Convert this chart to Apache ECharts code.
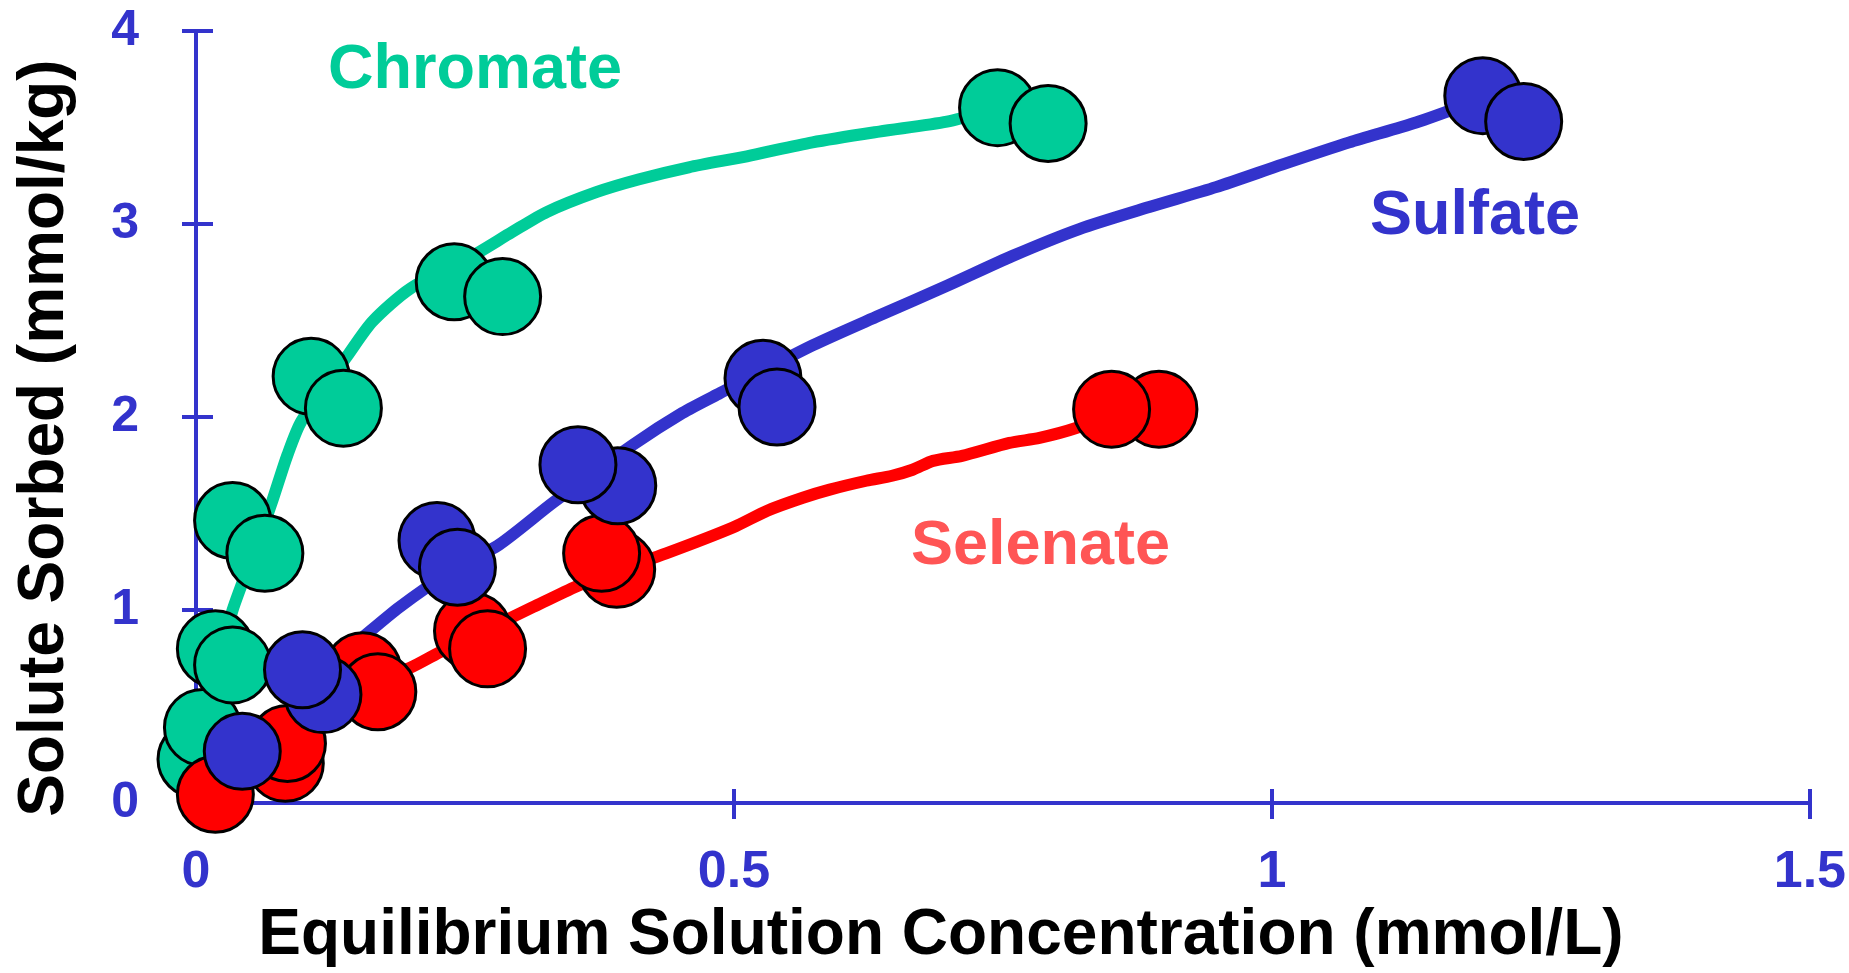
<!DOCTYPE html>
<html>
<head>
<meta charset="utf-8">
<script src="https://cdn.jsdelivr.net/npm/echarts@6/dist/echarts.min.js"></script>
<style>
html,body{margin:0;padding:0;background:#ffffff;}
#chart{width:1849px;height:973px;}
</style>
</head>
<body>
<div id="chart"></div>
<script>
// ---- data ----
const xAxisMin = 0, xAxisMax = 1.5, xAxisStep = 0.5;
const yAxisMin = 0, yAxisMax = 4, yAxisStep = 1;

// measured points (draw order)
const chromateX = [0.000, 0.006, 0.018, 0.034, 0.034, 0.064, 0.107, 0.137, 0.240, 0.285, 0.745, 0.792];
const chromateY = [0.227, 0.392, 0.799, 0.716, 1.464, 1.294, 2.211, 2.046, 2.701, 2.624, 3.603, 3.521];

const selenateX = [0.018, 0.083, 0.085, 0.155, 0.169, 0.257, 0.271, 0.391, 0.377, 0.895, 0.851];
const selenateY = [0.046, 0.206, 0.309, 0.686, 0.577, 0.892, 0.799, 1.211, 1.294, 2.041, 2.041];

const sulfateX = [0.043, 0.118, 0.099, 0.224, 0.243, 0.392, 0.355, 0.527, 0.540, 1.196, 1.234];
const sulfateY = [0.268, 0.562, 0.691, 1.361, 1.222, 1.644, 1.753, 2.201, 2.052, 3.665, 3.531];

// fitted curves
const chromateCurveX = [0.001, 0.010, 0.022, 0.034, 0.059, 0.071, 0.085, 0.098, 0.141, 0.164, 0.199, 0.257, 0.294, 0.326, 0.372, 0.412, 0.458, 0.512, 0.573, 0.635, 0.698, 0.733];
const chromateCurveY = [0.036, 0.397, 0.732, 1.000, 1.376, 1.567, 1.804, 1.979, 2.320, 2.495, 2.665, 2.835, 2.959, 3.062, 3.165, 3.232, 3.294, 3.351, 3.423, 3.479, 3.531, 3.582];

const sulfateCurveX = [0.002, 0.041, 0.087, 0.124, 0.152, 0.189, 0.236, 0.282, 0.332, 0.406, 0.452, 0.487, 0.573, 0.635, 0.698, 0.759, 0.821, 0.886, 0.948, 1.010, 1.072, 1.134, 1.183];
const sulfateCurveY = [0.010, 0.216, 0.485, 0.716, 0.845, 1.015, 1.196, 1.340, 1.557, 1.856, 2.021, 2.124, 2.371, 2.526, 2.680, 2.835, 2.974, 3.088, 3.191, 3.309, 3.423, 3.526, 3.624];

const selenateCurveX = [0.001, 0.041, 0.083, 0.124, 0.162, 0.199, 0.229, 0.273, 0.313, 0.354, 0.394, 0.437, 0.499, 0.531, 0.564, 0.589, 0.623, 0.647, 0.666, 0.685, 0.712, 0.756, 0.784, 0.818, 0.844];
const selenateCurveY = [0.010, 0.165, 0.361, 0.526, 0.629, 0.701, 0.789, 0.907, 1.015, 1.124, 1.211, 1.294, 1.428, 1.515, 1.582, 1.624, 1.670, 1.696, 1.727, 1.773, 1.799, 1.866, 1.892, 1.943, 2.005];

const seriesNames = ['Chromate', 'Sulfate', 'Selenate'];
const xAxisTitle = 'Equilibrium Solution Concentration (mmol/L)';
const yAxisTitle = 'Solute Sorbed (mmol/kg)';

// ---- build chart ----
const FONT = '"Liberation Sans", Arial, Helvetica, sans-serif';
const GREEN = '#00CC99', BLUE = '#3333CC', RED = '#FF0000', RED_TEXT = '#FF5555';
const pairs = (xs, ys) => xs.map((x, i) => [x, ys[i]]);

const lineSeries = (name, xs, ys, color) => ({
  name: name + ' fit', type: 'line', data: pairs(xs, ys),
  xAxisIndex: 0, yAxisIndex: 0,
  showSymbol: false, symbol: 'none', smooth: 0.25, clip: false, silent: true,
  lineStyle: { color: color, width: 12, cap: 'round', join: 'round' },
  z: 2
});
const pointSeries = (name, xs, ys, color) => ({
  name: name, type: 'scatter', data: pairs(xs, ys),
  xAxisIndex: 0, yAxisIndex: 0,
  symbol: 'circle', symbolSize: 76, clip: false, silent: true,
  itemStyle: { color: color, borderColor: '#000000', borderWidth: 3, opacity: 1 },
  z: 3
});

const tickStyle = { color: BLUE, width: 4 };
const option = {
  animation: false,
  backgroundColor: '#ffffff',
  grid: { left: 196, right: 38, top: 31, bottom: 166, containLabel: false },
  xAxis: [{
    type: 'value', min: xAxisMin, max: xAxisMax, interval: xAxisStep, position: 'bottom',
    name: xAxisTitle, nameLocation: 'middle', nameGap: 100,
    nameTextStyle: { fontFamily: FONT, fontWeight: 'bold', fontSize: 64, color: '#000000', padding: [0, 124, 0, 0] },
    axisLine: { show: true, onZero: false, lineStyle: { color: BLUE, width: 4 } },
    axisTick: { show: true, inside: false, length: 16, lineStyle: tickStyle },
    axisLabel: { margin: 44, color: BLUE, fontSize: 52, fontWeight: 'bold', fontFamily: FONT },
    splitLine: { show: false }
  }, {
    type: 'value', min: xAxisMin, max: xAxisMax, interval: xAxisStep, position: 'bottom',
    axisLine: { show: false, onZero: false },
    axisTick: { show: true, inside: true, length: 14, lineStyle: tickStyle },
    axisLabel: { show: false }, splitLine: { show: false }
  }],
  yAxis: [{
    type: 'value', min: yAxisMin, max: yAxisMax, interval: yAxisStep, position: 'left',
    name: yAxisTitle, nameLocation: 'middle', nameGap: 119,
    nameTextStyle: { fontFamily: FONT, fontWeight: 'bold', fontSize: 64, color: '#000000', padding: [0, 42, 0, 0] },
    axisLine: { show: true, onZero: false, lineStyle: { color: BLUE, width: 4 } },
    axisTick: { show: true, inside: false, length: 14, lineStyle: tickStyle },
    axisLabel: { margin: 57, color: BLUE, fontSize: 50, fontWeight: 'bold', fontFamily: FONT },
    splitLine: { show: false }
  }, {
    type: 'value', min: yAxisMin, max: yAxisMax, interval: yAxisStep, position: 'left',
    axisLine: { show: false, onZero: false },
    axisTick: { show: true, inside: true, length: 17, lineStyle: tickStyle },
    axisLabel: { show: false }, splitLine: { show: false }
  }],
  graphic: [
    { type: 'text', x: 328, y: 71, silent: true,
      style: { text: seriesNames[0], fill: GREEN, font: 'bold 63px ' + FONT, align: 'left', verticalAlign: 'middle' } },
    { type: 'text', x: 1370, y: 217, silent: true,
      style: { text: seriesNames[1], fill: BLUE, font: 'bold 63px ' + FONT, align: 'left', verticalAlign: 'middle' } },
    { type: 'text', x: 911, y: 547, silent: true,
      style: { text: seriesNames[2], fill: RED_TEXT, font: 'bold 63px ' + FONT, align: 'left', verticalAlign: 'middle' } }
  ],
  series: [
    lineSeries(seriesNames[0], chromateCurveX, chromateCurveY, GREEN),
    lineSeries(seriesNames[1], sulfateCurveX, sulfateCurveY, BLUE),
    lineSeries(seriesNames[2], selenateCurveX, selenateCurveY, RED),
    pointSeries(seriesNames[0], chromateX, chromateY, GREEN),
    pointSeries(seriesNames[2], selenateX, selenateY, RED),
    pointSeries(seriesNames[1], sulfateX, sulfateY, BLUE)
  ]
};

const chart = echarts.init(document.getElementById('chart'), null, { renderer: 'canvas', width: 1849, height: 973 });
chart.setOption(option);
</script>
</body>
</html>
